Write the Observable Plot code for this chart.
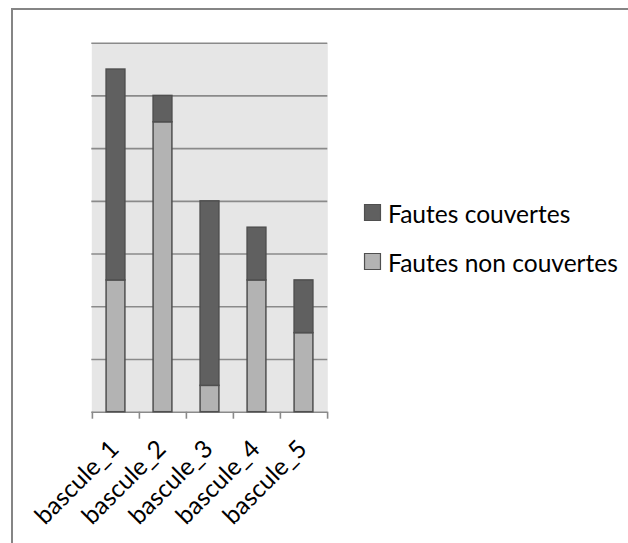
<!DOCTYPE html>
<html><head><meta charset="utf-8">
<script src="https://cdn.jsdelivr.net/npm/d3@7"></script>
<script src="https://cdn.jsdelivr.net/npm/@observablehq/plot@0.6"></script>
<style>html,body{margin:0;padding:0;background:#fff}</style>
</head><body><div id="chart"></div>
<script>
const categories = ["bascule_1", "bascule_2", "bascule_3", "bascule_4", "bascule_5"];
const fautesCouvertes = [8, 1, 7, 2, 2];
const fautesNonCouvertes = [5, 11, 1, 5, 3];
const seriesNames = ["Fautes couvertes", "Fautes non couvertes"];
const seriesColors = ["#606060", "#b3b3b3"];
const yTicks = [0, 2, 4, 6, 8, 10, 12, 14];

const rows = [];
categories.forEach((c, i) => {
  rows.push({cat: c, serie: seriesNames[1], value: fautesNonCouvertes[i]});
  rows.push({cat: c, serie: seriesNames[0], value: fautesCouvertes[i]});
});

function fitFont(text, target) {
  const ctx = document.createElement("canvas").getContext("2d");
  ctx.font = "100px Lato";
  return 100 * target / ctx.measureText(text).width;
}
const fs = fitFont("Fautes non couvertes", 230);

const W = 628, H = 543;
const mL = 91.3, mR = 300.7, mT = 42.7, mB = 131.3;
const bw = (W - mL - mR) / categories.length;
const barInset = (bw - 19) / 2;
const stroke = "#4f4f4f";

const off = 0.226 * fs;

const chart = Plot.plot({
  width: W, height: H,
  marginLeft: mL, marginRight: mR, marginTop: mT, marginBottom: mB,
  style: {fontFamily: "Lato", background: "white", overflow: "visible"},
  x: {domain: categories, padding: 0, axis: null},
  y: {domain: [0, 14], axis: null},
  color: {domain: seriesNames, range: seriesColors},
  marks: [
    Plot.frame({fill: "#e6e6e6", stroke: null}),
    Plot.ruleY(yTicks, {stroke: "#8a8a8a", strokeWidth: 1.6}),
    Plot.ruleX(categories, {x: d => d, dx: -bw / 2, stroke: "#8a8a8a", strokeWidth: 1.6, insetTop: H - mT - mB, insetBottom: -7}),
    Plot.ruleX([categories[categories.length - 1]], {x: d => d, dx: bw / 2, stroke: "#8a8a8a", strokeWidth: 1.6, insetTop: H - mT - mB, insetBottom: -7}),
    Plot.barY(rows, {x: "cat", y: "value", fill: "serie", stroke: stroke, strokeWidth: 1.5, insetLeft: barInset, insetRight: barInset}),
    Plot.text(categories, {x: d => d, text: d => d, frameAnchor: "bottom", rotate: -45, textAnchor: "end", lineAnchor: "middle", dx: 4.2 - off, dy: 38.3 - off, fontSize: fs, fill: "#000"}),
    Plot.dot([seriesNames[0]], {frameAnchor: "top-left", dx: 372 - mL, dy: 212 - mT, symbol: "square", r: 9, fill: seriesColors[0], stroke: stroke, strokeWidth: 1.2}),
    Plot.dot([seriesNames[1]], {frameAnchor: "top-left", dx: 372 - mL, dy: 261 - mT, symbol: "square", r: 9, fill: seriesColors[1], stroke: stroke, strokeWidth: 1.2}),
    Plot.text([seriesNames[0]], {frameAnchor: "top-left", dx: 387.5 - mL, dy: 220.5 - off - mT, textAnchor: "start", lineAnchor: "middle", fontSize: fs, fill: "#000"}),
    Plot.text([seriesNames[1]], {frameAnchor: "top-left", dx: 387.5 - mL, dy: 269.5 - off - mT, textAnchor: "start", lineAnchor: "middle", fontSize: fs, fill: "#000"})
  ]
});

d3.select(chart).insert("rect", ":first-child")
  .attr("x", 12).attr("y", 9).attr("width", 800).attr("height", 800)
  .attr("fill", "none").attr("stroke", "#858585").attr("stroke-width", 2);

document.getElementById("chart").appendChild(chart);
</script>
</body></html>
